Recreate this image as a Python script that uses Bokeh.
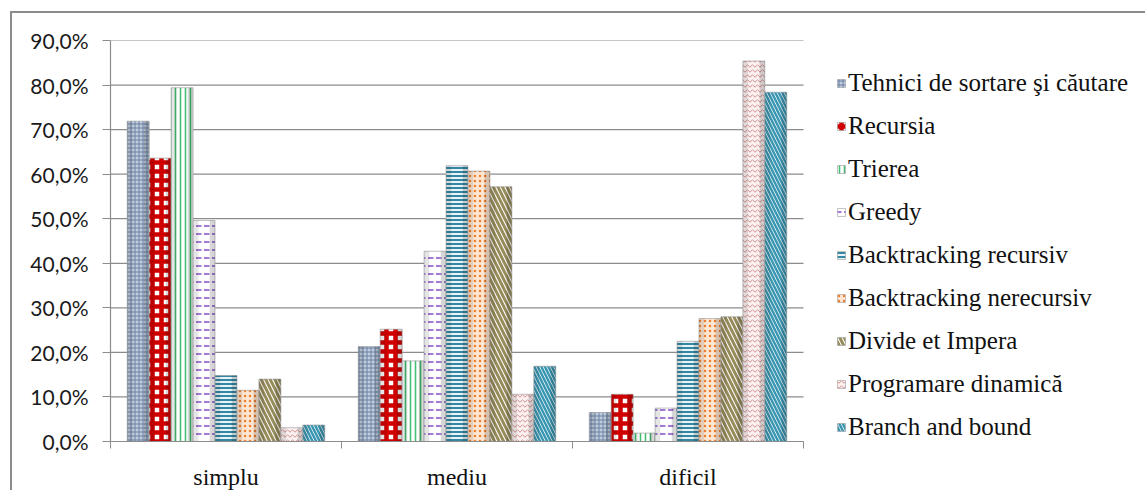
from bokeh.plotting import figure
from bokeh.models import (ColumnDataSource, FixedTicker, Legend, LegendItem,
                          Range1d)
from bokeh.transform import dodge
from bokeh.embed import file_html
from bokeh.resources import INLINE

# Difficulty levels (categories on the x axis)
levels = ["simplu", "mediu", "dificil"]

# Share of answers per topic, in percent, for simplu / mediu / dificil
tehnici = [71.9, 21.3, 6.5]
recursia = [63.6, 25.2, 10.6]
trierea = [79.4, 18.1, 1.9]
greedy = [49.6, 42.7, 7.5]
backtracking_rec = [14.8, 61.9, 22.5]
backtracking_nerec = [11.5, 60.7, 27.6]
divide_impera = [14.0, 57.2, 28.0]
programare_dinamica = [3.1, 10.6, 85.4]
branch_bound = [3.7, 16.9, 78.4]

series_names = [
    "Tehnici de sortare şi căutare",
    "Recursia",
    "Trierea",
    "Greedy",
    "Backtracking recursiv",
    "Backtracking nerecursiv",
    "Divide et Impera",
    "Programare dinamică",
    "Branch and bound",
]
series_values = [tehnici, recursia, trierea, greedy, backtracking_rec,
                 backtracking_nerec, divide_impera, programare_dinamica,
                 branch_bound]

y_ticks = [0, 10, 20, 30, 40, 50, 60, 70, 80, 90]
y_tick_labels = ["0,0%", "10,0%", "20,0%", "30,0%", "40,0%",
                 "50,0%", "60,0%", "70,0%", "80,0%", "90,0%"]

# fill, hatch pattern, hatch colour, hatch scale, hatch weight
styles = [
    ("#c3cedd", "+", "#6a81a5", 4, 1.0),
    ("#ffffff", "+", "#d00000", 9, 4.5),
    ("#ffffff", "|", "#45bd72", 5, 1.6),
    ("#ffffff", '"', "#a57ad6", 8, 2.0),
    ("#e8f3f7", "-", "#3588a3", 4, 2.0),
    ("#fde6d2", ".", "#ef7f2e", 5, 2.5),
    ("#ffffff", "\\", "#968b5a", 9, 3.0),
    ("#fbf1f1", "v", "#d38e8e", 5, 1.0),
    ("#ffffff", "\\", "#3a97b2", 7, 2.5),
]

n_cat = len(levels)
data = {"x": [i + 0.5 for i in range(n_cat)]}
for k, vals in enumerate(series_values):
    data[f"s{k}"] = vals
source = ColumnDataSource(data)

# The plot frame spans the legend area too; the category axis and the
# horizontal grid only cover x in [0, n_cat].
frame_px = 1037
cat_px = 231
p = figure(width=1135, height=479, output_backend="svg", toolbar_location=None,
           x_range=Range1d(0, frame_px / cat_px), y_range=Range1d(0, 90),
           min_border_left=98, min_border_right=0,
           min_border_top=27, min_border_bottom=51)
# the chart sits inside a frame whose top and left edges are visible
p.styles = {"border-top": "2px solid #8c8c8c",
            "border-left": "2px solid #8c8c8c",
            "margin-left": "10px", "margin-top": "11px"}
p.outline_line_color = None
p.background_fill_color = "white"
p.border_fill_color = "white"
p.xgrid.visible = False
p.ygrid.visible = False

# horizontal grid lines over the category area
p.segment(x0=0, x1=n_cat, y0=y_ticks, y1=y_ticks, line_color="#8c8c8c",
          line_width=1.2, level="underlay")

bw = 0.095
items = []
for k, name in enumerate(series_names):
    fill, pat, hcol, hscale, hweight = styles[k]
    off = (k - 4) * bw
    r = p.vbar(x=dodge("x", off, range=p.x_range), top=f"s{k}", width=bw,
               source=source, fill_color=fill, hatch_pattern=pat,
               hatch_color=hcol, hatch_scale=hscale, hatch_weight=hweight,
               line_color="#9a9a9a", line_width=0.6)
    # rounded-cylinder shading on the bar edges
    p.vbar(x=dodge("x", off - bw * 0.38, range=p.x_range), top=f"s{k}",
           width=bw * 0.24, source=source, fill_color="#000000",
           fill_alpha=0.10, line_color=None)
    p.vbar(x=dodge("x", off + bw * 0.38, range=p.x_range), top=f"s{k}",
           width=bw * 0.24, source=source, fill_color="#000000",
           fill_alpha=0.16, line_color=None)
    items.append(LegendItem(label=name, renderers=[r]))

# y axis
yax = p.yaxis[0]
yax.ticker = FixedTicker(ticks=y_ticks)
yax.major_label_overrides = {t: s for t, s in zip(y_ticks, y_tick_labels)}
yax.major_label_text_font = "Lato"
yax.major_label_text_font_size = "21px"
yax.major_label_text_color = "#1a1a1a"
yax.major_tick_out = 8
yax.major_tick_in = 0
yax.minor_tick_out = 0
yax.minor_tick_in = 0
yax.major_label_standoff = 14
yax.axis_line_color = "#8c8c8c"
yax.major_tick_line_color = "#8c8c8c"
yax.axis_line_width = 1.2

# x axis: labels at category centres, ticks at category boundaries
xax = p.xaxis[0]
xax.bounds = (0, n_cat)
xax.ticker = FixedTicker(ticks=data["x"], minor_ticks=list(range(n_cat + 1)))
xax.major_label_overrides = {x: s for x, s in zip(data["x"], levels)}
xax.major_label_text_font = "Liberation Serif"
xax.major_label_text_font_size = "24px"
xax.major_label_text_color = "#111111"
xax.major_tick_out = 0
xax.major_tick_in = 0
xax.minor_tick_out = 7
xax.minor_tick_in = 0
xax.minor_tick_line_color = "#8c8c8c"
xax.major_label_standoff = 15
xax.axis_line_color = "#8c8c8c"
xax.axis_line_width = 1.2

legend = Legend(items=items, location=(726, 0), orientation="vertical",
                label_text_font="Liberation Serif", label_text_font_size="25px",
                label_text_color="#111111", glyph_width=10, glyph_height=10,
                label_standoff=2, spacing=15, padding=0, margin=0,
                border_line_color=None, background_fill_alpha=0)
p.add_layout(legend, "center")

open("out.html", "w").write(file_html(p, INLINE))
